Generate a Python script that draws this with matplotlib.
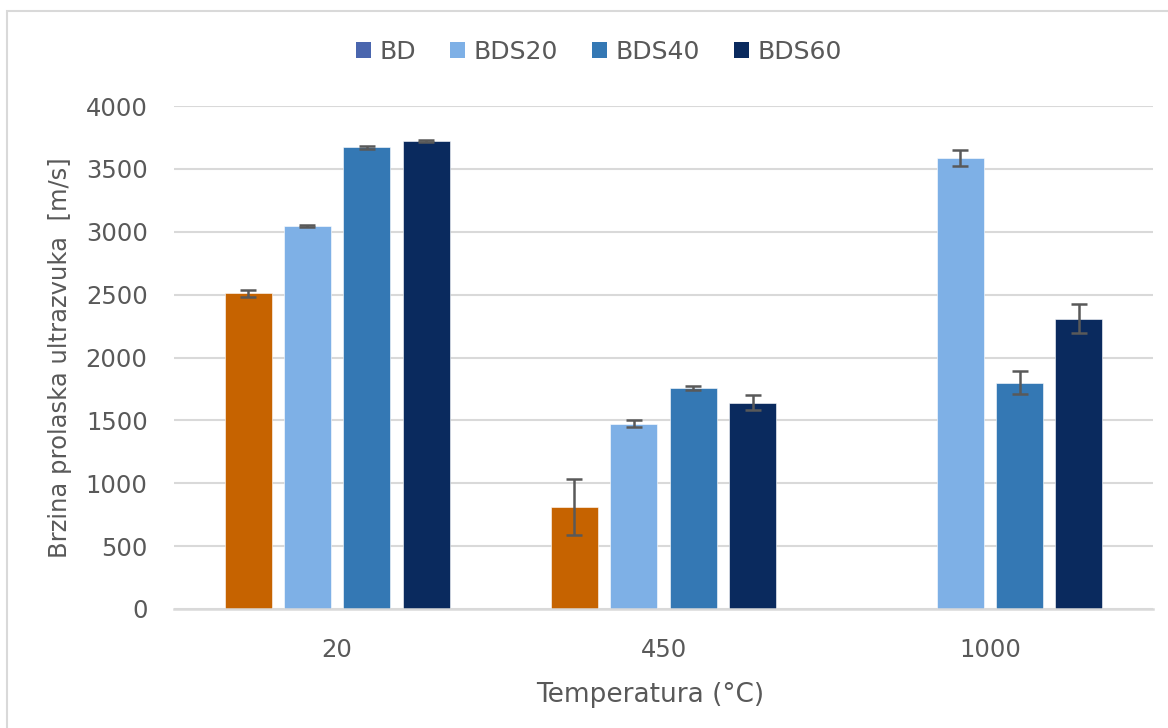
import numpy as np
import matplotlib
matplotlib.use('Agg')
import matplotlib.pyplot as plt
from matplotlib.patches import Patch, Rectangle

plt.rcParams['font.family'] = ['DejaVu Sans']

# data
temps = ["20", "450", "1000"]
series = ["BD", "BDS20", "BDS40", "BDS60"]
bd = [2510, 810, np.nan]
bds20 = [3045, 1475, 3585]
bds40 = [3670, 1760, 1800]
bds60 = [3720, 1640, 2310]
bd_err = [30, 220, np.nan]
bds20_err = [8, 25, 62]
bds40_err = [15, 15, 90]
bds60_err = [8, 60, 118]

values = [bd, bds20, bds40, bds60]
errors = [bd_err, bds20_err, bds40_err, bds60_err]
bar_colors = ['#c66300', '#7eb0e6', '#3478b4', '#0a2a5e']
legend_colors = ['#4a66ae', '#7eb0e6', '#3478b4', '#0a2a5e']

grey = '#595959'

fig = plt.figure(figsize=(11.68, 7.28), dpi=100)
ax = fig.add_axes([174/1168, 1-609/728, (1153-174)/1168, (609-106)/728])

# outer chart frame
fig.patches.append(Rectangle((7/1168, -0.05), 1.2, 1-11/728+0.05, transform=fig.transFigure,
                             fill=False, edgecolor='#d9d9d9', lw=1.5))

x = np.arange(len(temps))
width = 0.144
pitch = 0.182
for i in range(len(series)):
    pos = x + (i - 1.5) * pitch
    ax.bar(pos, values[i], width, color=bar_colors[i], edgecolor='white', linewidth=0.4, zorder=3)
    ax.errorbar(pos, values[i], yerr=errors[i], fmt='none', ecolor=grey,
                elinewidth=1.8, capsize=6, capthick=1.8, zorder=4)

ax.set_xlim(-0.5, 2.5)
ax.set_ylim(0, 4000)
ax.set_yticks(np.arange(0, 4001, 500))
ax.set_xticks(x)
ax.set_xticklabels(temps)
ax.grid(axis='y', color='#d9d9d9', linewidth=1.5, zorder=0)
for s in ['top', 'right', 'left']:
    ax.spines[s].set_visible(False)
ax.spines['bottom'].set_color('#d9d9d9')
ax.spines['bottom'].set_linewidth(1.8)
ax.spines['bottom'].set_zorder(5)
ax.tick_params(axis='both', length=0, labelsize=17.5, colors=grey)
ax.tick_params(axis='x', pad=21)
ax.tick_params(axis='y', pad=19)

ax.set_xlabel("Temperatura (°C)", fontsize=19, color=grey)
ax.xaxis.set_label_coords(0.486, -0.145, transform=ax.transAxes)
ax.set_ylabel("Brzina prolaska ultrazvuka  [m/s]", fontsize=17.5, color=grey, labelpad=10)

handles = [Patch(facecolor=c, edgecolor='none') for c in legend_colors]
fig.legend(handles, series, loc='center', bbox_to_anchor=(599/1168, 1-52/728), ncol=4,
           frameon=False, fontsize=18, handlelength=0.6, handleheight=0.6,
           handletextpad=0.35, columnspacing=1.35, labelcolor=grey)

plt.savefig('out.png', dpi=100)
